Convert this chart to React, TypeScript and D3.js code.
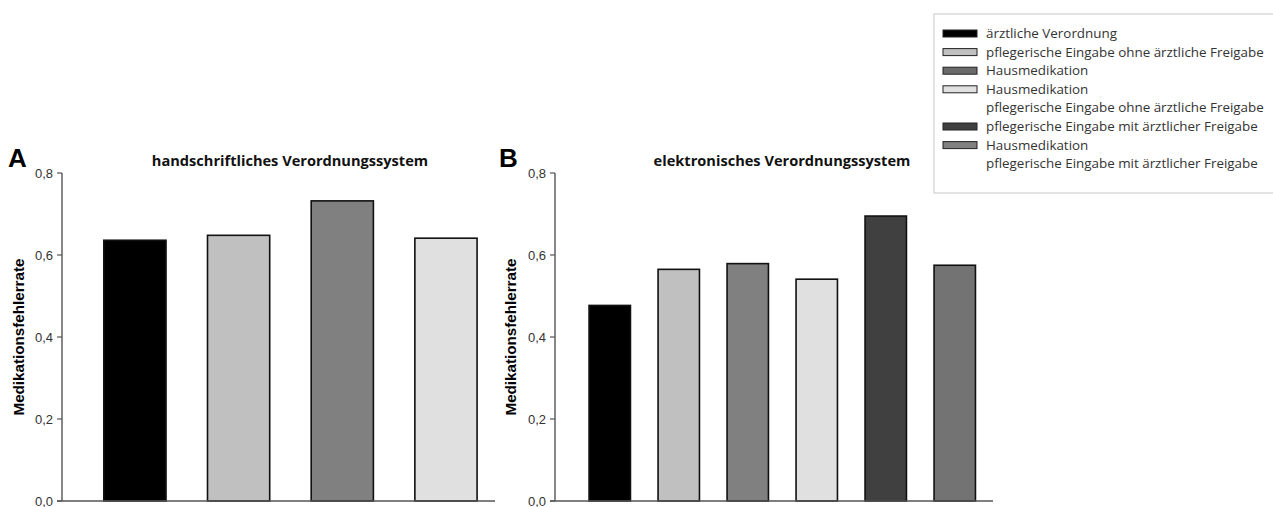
import React from "react";
import * as d3 from "d3";

const categoriesA = ["ärztliche Verordnung", "pflegerische Eingabe ohne ärztliche Freigabe", "Hausmedikation", "Hausmedikation / pflegerische Eingabe ohne ärztliche Freigabe"];
const valuesA = [0.636, 0.648, 0.732, 0.641];
const colorsA = ["#000000", "#c0c0c0", "#808080", "#e0e0e0"];

const categoriesB = ["ärztliche Verordnung", "pflegerische Eingabe ohne ärztliche Freigabe", "Hausmedikation", "Hausmedikation / pflegerische Eingabe ohne ärztliche Freigabe", "pflegerische Eingabe mit ärztlicher Freigabe", "Hausmedikation / pflegerische Eingabe mit ärztlicher Freigabe"];
const valuesB = [0.477, 0.565, 0.579, 0.541, 0.695, 0.575];
const colorsB = ["#000000", "#c0c0c0", "#808080", "#e0e0e0", "#404040", "#737373"];

const yTicks = [0, 0.2, 0.4, 0.6, 0.8];

const legendLabels = [
  ["ärztliche Verordnung"],
  ["pflegerische Eingabe ohne ärztliche Freigabe"],
  ["Hausmedikation"],
  ["Hausmedikation", "pflegerische Eingabe ohne ärztliche Freigabe"],
  ["pflegerische Eingabe mit ärztlicher Freigabe"],
  ["Hausmedikation", "pflegerische Eingabe mit ärztlicher Freigabe"],
];
const legendColors = ["#000000", "#c0c0c0", "#6a6a6a", "#e0e0e0", "#404040", "#808080"];

const fmt = (v: number) => v.toFixed(1).replace(".", ",");

type PanelProps = {
  letter: string;
  title: string;
  cats: string[];
  vals: number[];
  cols: string[];
  x0: number;
  x1: number;
  padOuter: number;
  align: number;
  letterX: number;
  labelX: number;
  titleX: number;
};

function Panel(p: PanelProps) {
  const y = d3.scaleLinear().domain([0, 0.8]).range([501, 173]);
  const x = d3
    .scaleBand<string>()
    .domain(p.cats)
    .range([p.x0, p.x1])
    .paddingInner(0.4)
    .paddingOuter(p.padOuter)
    .align(p.align);
  return (
    <g>
      <text x={p.letterX} y={167} fontFamily="Liberation Sans, Arial, sans-serif" fontWeight="bold" fontSize={26} fill="#000">
        {p.letter}
      </text>
      <text x={p.titleX} y={166} textAnchor="middle" fontFamily="Open Sans, sans-serif" fontWeight="bold" fontSize={14.6} fill="#111">
        {p.title}
      </text>
      <text
        transform={`translate(${p.labelX},${(y(0) + y(0.8)) / 2}) rotate(-90)`}
        textAnchor="middle"
        fontFamily="Liberation Sans, Arial, sans-serif"
        fontWeight="bold"
        fontSize={15.2}
        fill="#000"
      >
        Medikationsfehlerrate
      </text>
      {p.cats.map((c, i) => (
        <rect
          key={c}
          x={x(c)!}
          y={y(p.vals[i])}
          width={x.bandwidth()}
          height={y(0) - y(p.vals[i])}
          fill={p.cols[i]}
          stroke="#111"
          strokeWidth={1.6}
        />
      ))}
      <line x1={p.x0} x2={p.x0} y1={y(0.8)} y2={y(0)} stroke="#555" strokeWidth={1.4} />
      <line x1={p.x0 - 5} x2={p.x1} y1={y(0)} y2={y(0)} stroke="#555" strokeWidth={1.4} />
      {yTicks.map((t) => (
        <g key={t}>
          <line x1={p.x0 - 5} x2={p.x0} y1={y(t)} y2={y(t)} stroke="#555" strokeWidth={1.2} />
          <text x={p.x0 - 9} y={y(t) + 4.5} textAnchor="end" fontFamily="Liberation Sans, Arial, sans-serif" fontSize={13} fill="#333">
            {fmt(t)}
          </text>
        </g>
      ))}
    </g>
  );
}

export default function App() {
  const legX = 934;
  const legY = 14;
  const rowH = 18.6;
  let row = 0;
  return (
    <svg width={1273} height={507} style={{ position: "absolute", left: 0, top: 0, background: "#fff" }}>
      <Panel
        letter="A"
        title="handschriftliches Verordnungssystem"
        cats={categoriesA}
        vals={valuesA}
        cols={colorsA}
        x0={62}
        x1={495}
        padOuter={0.288}
        align={0.7}
        letterX={8}
        labelX={24}
        titleX={290}
      />
      <Panel
        letter="B"
        title="elektronisches Verordnungssystem"
        cats={categoriesB}
        vals={valuesB}
        cols={colorsB}
        x0={555}
        x1={993}
        padOuter={0.374}
        align={0.66}
        letterX={499}
        labelX={516}
        titleX={782}
      />
      <rect x={legX} y={legY} width={345} height={179} fill="#fff" stroke="#d0d0d0" strokeWidth={1.2} />
      {legendLabels.map((lines, i) => {
        const r = row;
        row += lines.length;
        const cy = legY + 19 + r * rowH;
        return (
          <g key={i}>
            <rect x={943} y={cy - 3} width={34} height={7} fill={legendColors[i]} stroke="#222" strokeWidth={1} />
            {lines.map((l, j) => (
              <text key={j} x={986} y={cy + 5 + j * rowH} fontFamily="Open Sans, sans-serif" fontSize={13.4} fill="#333">
                {l}
              </text>
            ))}
          </g>
        );
      })}
    </svg>
  );
}
